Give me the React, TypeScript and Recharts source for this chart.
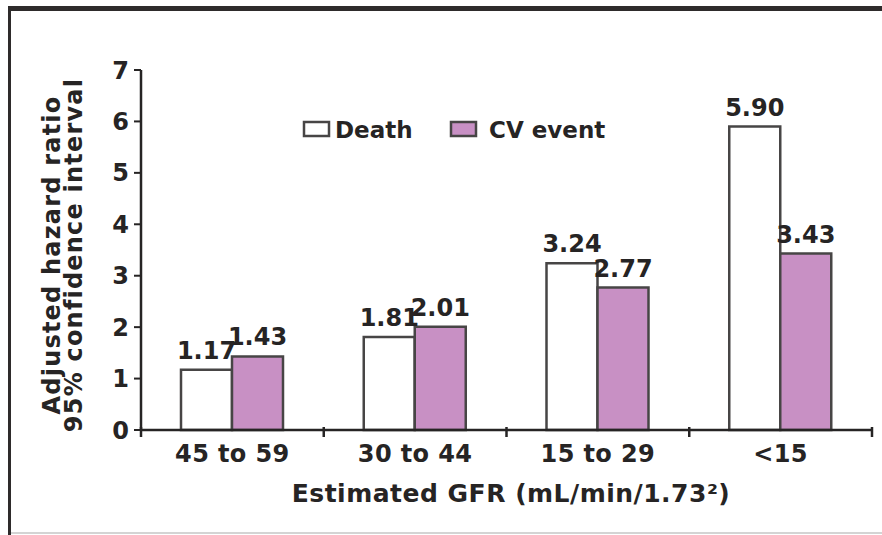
import React from "react";
import { BarChart, Bar, XAxis, YAxis, LabelList } from "recharts";

const categories = ["45 to 59", "30 to 44", "15 to 29", "<15"];
const deathValues = [1.17, 1.81, 3.24, 5.9];
const cvValues = [1.43, 2.01, 2.77, 3.43];
const yTicks = [0, 1, 2, 3, 4, 5, 6, 7];

const data = categories.map((c, i) => ({ cat: c, death: deathValues[i], cv: cvValues[i] }));

const FONT = "'DejaVu Sans', sans-serif";
const INK = "#262424";
const PINK = "#c890c4";
const STROKE = "#474545";

const YLabel = (props: any) => {
  const vb = props.viewBox || {};
  const cy = vb.y + vb.height / 2 + 5;
  const common = {
    textAnchor: "middle" as const,
    fontFamily: FONT,
    fontWeight: "bold",
    fontSize: 24,
    letterSpacing: 1.2,
    fill: INK,
  };
  return (
    <g>
      <text transform={`translate(60, ${cy}) rotate(-90)`} {...common}>
        Adjusted hazard ratio
      </text>
      <text transform={`translate(82, ${cy}) rotate(-90)`} {...common}>
        95% confidence interval
      </text>
    </g>
  );
};

const XTick = (props: any) => {
  const { x, y, payload, index, visibleTicksCount } = props;
  const off = payload && typeof payload.offset === "number" ? payload.offset : 0;
  const isLast = visibleTicksCount ? index === visibleTicksCount - 1 : index === categories.length - 1;
  return (
    <g>
      {off > 0 && <line x1={x - off} x2={x - off} y1={y - 3} y2={y + 7} stroke={INK} strokeWidth={2.5} />}
      {off > 0 && isLast && <line x1={x + off} x2={x + off} y1={y - 3} y2={y + 7} stroke={INK} strokeWidth={2.5} />}
      <text x={x} y={y + 32} textAnchor="middle" fontFamily={FONT} fontWeight="bold" fontSize={24} letterSpacing={0.4} fill={INK}>
        {payload.value}
      </text>
    </g>
  );
};

const LegendBox = () => (
  <g fontFamily={FONT} fontWeight="bold" fontSize={23} fill={INK}>
    <rect x={304} y={122} width={25} height={14} fill="#fff" stroke={STROKE} strokeWidth={2.5} />
    <text x={335} y={138}>Death</text>
    <rect x={451} y={122} width={25} height={14} fill={PINK} stroke={STROKE} strokeWidth={2.5} />
    <text x={489} y={138}>CV event</text>
  </g>
);

const labelStyle = { fontFamily: FONT, fontWeight: "bold", fontSize: 24, fill: INK };

export default function App() {
  return (
    <div style={{ position: "absolute", left: 0, top: 0, width: 882, height: 535, background: "#fff" }}>
      <div style={{ position: "absolute", left: 8, top: 6, width: 874, height: 5, background: "#2e2b2b" }} />
      <div style={{ position: "absolute", left: 8, top: 6, width: 3, height: 529, background: "#2e2b2b" }} />
      <div style={{ position: "absolute", left: 11, top: 532, width: 871, height: 2, background: "#d4d4d4" }} />
      <div style={{ position: "absolute", left: 0, top: 0 }}>
        <BarChart
          width={882}
          height={535}
          data={data}
          margin={{ top: 70, right: 10, bottom: 45, left: 41 }}
          barGap={0}
          barSize={51}
        >
          <XAxis
            dataKey="cat"
            height={60}
            axisLine={{ stroke: INK, strokeWidth: 2.5 }}
            tickLine={false}
            tickSize={0}
            tickMargin={0}
            tick={<XTick />}
            interval={0}
          />
          <YAxis
            width={100}
            domain={[0, 7]}
            ticks={yTicks}
            interval={0}
            axisLine={{ stroke: INK, strokeWidth: 2.5 }}
            tickLine={{ stroke: INK, strokeWidth: 2 }}
            tickSize={7}
            tickMargin={5}
            tick={{ fontFamily: FONT, fontWeight: "bold", fontSize: 24, fill: INK }}
            label={{ content: <YLabel /> }}
          />
          <Bar dataKey="death" fill="#ffffff" stroke={STROKE} strokeWidth={2.5} isAnimationActive={false}>
            <LabelList dataKey="death" position="top" offset={11} formatter={(v: any) => Number(v).toFixed(2)} style={labelStyle} />
          </Bar>
          <Bar dataKey="cv" fill={PINK} stroke={STROKE} strokeWidth={2.5} isAnimationActive={false}>
            <LabelList dataKey="cv" position="top" offset={11} formatter={(v: any) => Number(v).toFixed(2)} style={labelStyle} />
          </Bar>
        </BarChart>
      </div>
      <svg style={{ position: "absolute", left: 0, top: 0, pointerEvents: "none" }} width={882} height={535}>
        <LegendBox />
        <text x={511} y={502} textAnchor="middle" fontFamily={FONT} fontWeight="bold" fontSize={25} letterSpacing={0.5} fill={INK}>
          Estimated GFR (mL/min/1.73²)
        </text>
      </svg>
    </div>
  );
}
